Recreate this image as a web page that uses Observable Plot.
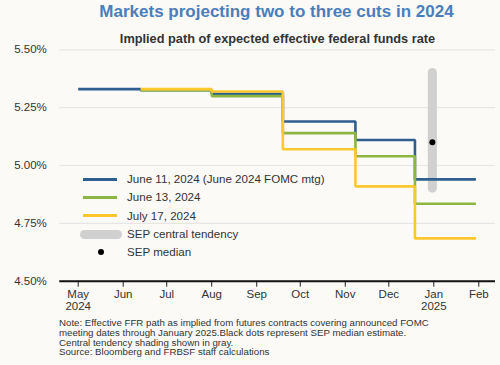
<!DOCTYPE html>
<html>
<head>
<meta charset="utf-8">
<script src="https://cdn.jsdelivr.net/npm/d3@7"></script>
<script src="https://cdn.jsdelivr.net/npm/@observablehq/plot@0.6"></script>
<style>
  html, body { margin: 0; padding: 0; background: #fbfaf7; }
  body { width: 500px; height: 365px; overflow: hidden; font-family: "Liberation Sans", Arial, sans-serif; }
  #wrap { position: relative; width: 500px; height: 365px; }
  #chart { position: absolute; left: 0; top: 0; }
  .title { position: absolute; left: 0; width: 553px; text-align: center; font-weight: bold; font-size: 17px; color: #4a7ebb; top: 2px; }
  .subtitle { position: absolute; left: 0; width: 555px; text-align: center; font-weight: bold; font-size: 12.75px; color: #333; top: 31px; }
  .legend { position: absolute; left: 78px; top: 170px; font-size: 11.6px; color: #333; }
  .legend .row { position: relative; height: 18.3px; line-height: 18.3px; padding-left: 49px; white-space: nowrap; }
  .legend .sw { position: absolute; top: 50%; }
  .note { position: absolute; left: 59px; top: 318px; font-size: 9.7px; line-height: 9.8px; color: #333; white-space: nowrap; }
</style>
</head>
<body>
<div id="wrap">
  <div id="chart"></div>
  <div class="title">Markets projecting two to three cuts in 2024</div>
  <div class="subtitle">Implied path of expected effective federal funds rate</div>
  <div class="legend" id="legend"></div>
  <div class="note">Note: Effective FFR path as implied from futures contracts covering announced FOMC<br>meeting dates through January 2025.Black dots represent SEP median estimate.<br>Central tendency shading shown in gray.<br>Source: Bloomberg and FRBSF staff calculations</div>
</div>
<script>
// ---- Data ----
const stepDates = ["2024-05-01", "2024-06-13", "2024-08-01", "2024-09-19", "2024-11-08", "2024-12-19", "2025-01-30"];
const seriesNames = ["June 11, 2024 (June 2024 FOMC mtg)", "June 13, 2024", "July 17, 2024"];
const june11 = [5.33, 5.325, 5.31, 5.19, 5.11, 4.94, 4.94];
const june13 = [null, 5.325, 5.30, 5.14, 5.04, 4.835, 4.835];
const july17 = [null, 5.33, 5.32, 5.07, 4.91, 4.685, 4.685];
const seriesColors = ["#2f5f8f", "#8db542", "#fdc82f"];

const sepDate = "2024-12-31";
const sepLow = 4.9;
const sepHigh = 5.4;
const sepMedian = 5.1;

const yTicks = [4.5, 4.75, 5.0, 5.25, 5.5];
const xTickDates = ["2024-05-01", "2024-06-01", "2024-07-01", "2024-08-01", "2024-09-01", "2024-10-01", "2024-11-01", "2024-12-01", "2025-01-01", "2025-02-01"];
const xTickLabels = ["May\n2024", "Jun", "Jul", "Aug", "Sep", "Oct", "Nov", "Dec", "Jan\n2025", "Feb"];

// ---- Build table ----
const allSeries = [june11, june13, july17];
const rows = [];
allSeries.forEach((vals, si) => {
  vals.forEach((v, i) => {
    if (v != null) rows.push({series: seriesNames[si], date: new Date(stepDates[i] + "T00:00Z"), value: v});
  });
});
const sep = [{date: new Date(sepDate + "T00:00Z"), low: sepLow, high: sepHigh, median: sepMedian}];
const xTicks = xTickDates.map(d => new Date(d + "T00:00Z"));
const labelFor = new Map(xTicks.map((d, i) => [+d, xTickLabels[i]]));

const chart = Plot.plot({
  width: 500,
  height: 315,
  marginTop: 49.3,
  marginBottom: 34.3,
  marginLeft: 59.3,
  marginRight: 5,
  style: {background: "transparent", fontFamily: "Liberation Sans, Arial, sans-serif", fontSize: "11.5px", color: "#333"},
  x: {type: "utc", domain: [new Date("2024-04-18T08:00Z"), new Date("2025-02-12T12:00Z")]},
  y: {domain: [4.5, 5.5]},
  color: {domain: seriesNames, range: seriesColors},
  marks: [
    Plot.gridY(yTicks, {stroke: "#e6e6e6", strokeOpacity: 1, strokeWidth: 1.2}),
    Plot.axisY(yTicks, {tickSize: 0, tickPadding: 13, tickFormat: d => d.toFixed(2) + "%", label: null, fill: "#333", fontSize: 11.5}),
    Plot.axisX(xTicks, {tickSize: 6, tickPadding: 3, tickFormat: d => labelFor.get(+d), label: null, stroke: "#222", fill: "#333", fontSize: 11.5}),
    Plot.ruleY([4.5], {stroke: "#111", strokeWidth: 2}),
    Plot.ruleX(sep, {x: "date", y1: "low", y2: "high", stroke: "#d0d0d0", strokeWidth: 9, strokeLinecap: "round"}),
    Plot.line(rows, {x: "date", y: "value", z: "series", stroke: "series", curve: "step-after", strokeWidth: 2.6, strokeLinejoin: "miter", strokeLinecap: "butt"}),
    Plot.dot(sep, {x: "date", y: "median", r: 3, fill: "black", stroke: "none"})
  ]
});
document.getElementById("chart").appendChild(chart);

// ---- Legend ----
const legend = document.getElementById("legend");
seriesNames.forEach((name, i) => {
  const row = document.createElement("div");
  row.className = "row";
  row.innerHTML = `<span class="sw" style="left:5px;width:34px;height:3px;margin-top:-1.5px;background:${seriesColors[i]}"></span>${name}`;
  legend.appendChild(row);
});
const r1 = document.createElement("div");
r1.className = "row";
r1.innerHTML = `<span class="sw" style="left:2px;width:42px;height:9px;margin-top:-4.5px;border-radius:4.5px;background:#d0d0d0"></span>SEP central tendency`;
legend.appendChild(r1);
const r2 = document.createElement("div");
r2.className = "row";
r2.innerHTML = `<span class="sw" style="left:20px;width:6px;height:6px;margin-top:-3px;border-radius:3px;background:#000"></span>SEP median`;
legend.appendChild(r2);
</script>
</body>
</html>
